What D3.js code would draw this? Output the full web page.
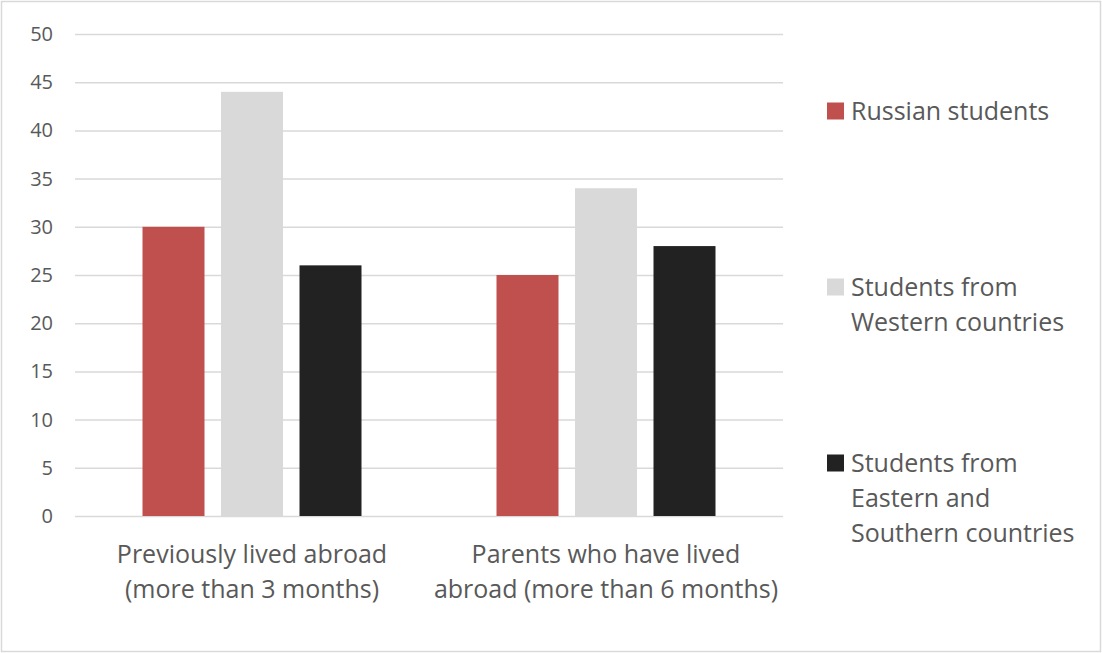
<!DOCTYPE html>
<html>
<head>
<meta charset="utf-8">
<script src="https://cdn.jsdelivr.net/npm/d3@7"></script>
<style>
  html, body { margin: 0; padding: 0; background: #fff; }
  svg { display: block; font-family: "Open Sans", "Noto Sans", sans-serif; }
</style>
</head>
<body>
<svg id="chart" width="1102" height="653"></svg>
<script>
const categories = [
  ["Previously lived abroad", "(more than 3 months)"],
  ["Parents who have lived", "abroad (more than 6 months)"]
];
const seriesNames = [
  ["Russian students"],
  ["Students from", "Western countries"],
  ["Students from", "Eastern and", "Southern countries"]
];
const seriesColors = ["#c0504d", "#d9d9d9", "#222222"];
const russian = [30, 25];
const western = [44, 34];
const eastern = [26, 28];
const yTicks = [0, 5, 10, 15, 20, 25, 30, 35, 40, 45, 50];

const seriesValues = [russian, western, eastern];
const svg = d3.select("#chart");
const W = 1102, H = 653;
const textColor = "#595959";
const gridColor = "#d9d9d9";

svg.append("rect").attr("x", 1.5).attr("y", 1.5).attr("width", W - 3).attr("height", H - 3)
  .attr("fill", "#fff").attr("stroke", gridColor).attr("stroke-width", 1.5);

const plot = { left: 75, right: 783, top: 34, bottom: 516 };

const x0 = d3.scaleBand().domain(d3.range(categories.length))
  .range([plot.left, plot.right]).paddingInner(0).paddingOuter(0);
const y = d3.scaleLinear().domain([0, 50]).range([plot.bottom, plot.top]);

// gridlines
const yAxis = d3.axisLeft(y).tickValues(yTicks).tickSize(-(plot.right - plot.left)).tickPadding(20);
const gy = svg.append("g").attr("transform", `translate(${plot.left},0)`).call(yAxis);
gy.select(".domain").remove();
gy.selectAll(".tick line").attr("stroke", gridColor).attr("stroke-width", 1.5);
gy.selectAll(".tick text").attr("fill", textColor).attr("font-size", 20)
  .attr("font-family", "'Open Sans', sans-serif").attr("x", -22);

// bars
const barW = 62, gap = 16.5;
const groupW = barW * 3 + gap * 2;
const x1 = d3.scaleBand().domain(d3.range(3))
  .range([0, groupW]).paddingInner(gap / (barW + gap)).paddingOuter(0);

const groups = svg.append("g").selectAll("g").data(categories).join("g")
  .attr("transform", (d, i) => `translate(${x0(i) + (x0.bandwidth() - groupW) / 2},0)`);

groups.selectAll("rect").data((d, i) => seriesValues.map((s, k) => ({ k, v: s[i] })))
  .join("rect")
  .attr("x", d => x1(d.k))
  .attr("width", x1.bandwidth())
  .attr("y", d => y(d.v))
  .attr("height", d => y(0) - y(d.v))
  .attr("fill", d => seriesColors[d.k]);

// category labels
categories.forEach((lines, i) => {
  const cx = x0(i) + x0.bandwidth() / 2;
  const t = svg.append("text").attr("text-anchor", "middle").attr("fill", textColor)
    .attr("font-size", 25);
  lines.forEach((ln, j) => {
    t.append("tspan").attr("x", cx).attr("y", 563 + j * 35).text(ln);
  });
});

// legend
const legendY = [111, 287, 463];
seriesNames.forEach((lines, k) => {
  svg.append("rect").attr("x", 827).attr("y", legendY[k] - 8.5).attr("width", 17).attr("height", 17)
    .attr("fill", seriesColors[k]);
  const t = svg.append("text").attr("fill", textColor).attr("font-size", 25);
  lines.forEach((ln, j) => {
    t.append("tspan").attr("x", 851).attr("y", legendY[k] + 9 + j * 35).text(ln);
  });
});
</script>
</body>
</html>
